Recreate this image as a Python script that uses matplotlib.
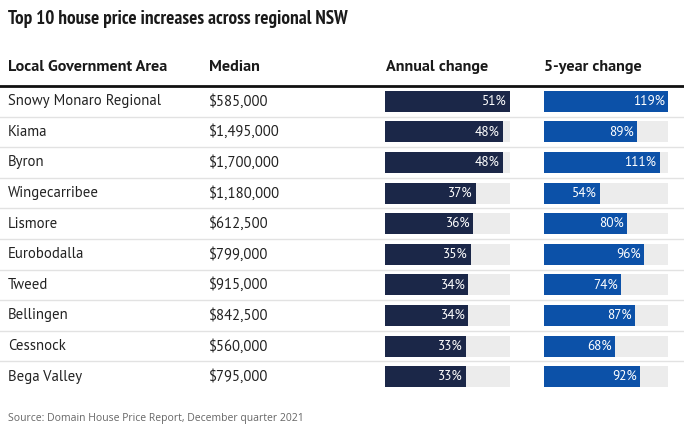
import matplotlib
matplotlib.use("Agg")
import matplotlib.pyplot as plt

areas = ["Snowy Monaro Regional", "Kiama", "Byron", "Wingecarribee", "Lismore",
         "Eurobodalla", "Tweed", "Bellingen", "Cessnock", "Bega Valley"]
medians = ["$585,000", "$1,495,000", "$1,700,000", "$1,180,000", "$612,500",
           "$799,000", "$915,000", "$842,500", "$560,000", "$795,000"]
annual = [51, 48, 48, 37, 36, 35, 34, 34, 33, 33]
five_year = [119, 89, 111, 54, 80, 96, 74, 87, 68, 92]
headers = ["Local Government Area", "Median", "Annual change", "5-year change"]
title = "Top 10 house price increases across regional NSW"
source = "Source: Domain House Price Report, December quarter 2021"

W, H = 684, 432
DPI = 100
NARROW = ["PT Sans Narrow", "Roboto", "DejaVu Sans"]
BODY = ["PT Sans", "Roboto", "DejaVu Sans"]
fig = plt.figure(figsize=(W / DPI, H / DPI), dpi=DPI)
fig.patch.set_facecolor("white")

def px_rect(x0, y0, x1, y1):
    return [x0 / W, 1 - y1 / H, (x1 - x0) / W, (y1 - y0) / H]

n = len(areas)
top, bottom = 86, 86 + 30.6 * n

tab = fig.add_axes(px_rect(0, top, W, bottom))
tab.set_xlim(0, W)
tab.set_ylim(n - 0.5, -0.5)
tab.axis("off")

for i in range(n):
    tab.text(8, i, areas[i], fontsize=10.6, family=BODY, color="#222222", va="center", ha="left")
    tab.text(209, i, medians[i], fontsize=10.6, family=BODY, color="#222222", va="center", ha="left")
for i in range(n - 1):
    tab.axhline(i + 0.5, color="#e2e2e2", lw=1.0)
tab.axhline(-0.5, color="#111111", lw=2.0, clip_on=False)

def bar_col(x0, x1, vals, color):
    ax = fig.add_axes(px_rect(x0, top, x1, bottom))
    vmax = max(vals)
    ys = list(range(n))
    ax.barh(ys, [vmax] * n, height=0.69, color="#ececec", left=0)
    ax.barh(ys, vals, height=0.69, color=color, left=0)
    ax.set_xlim(0, vmax)
    ax.set_ylim(n - 0.5, -0.5)
    ax.axis("off")
    for y, v in zip(ys, vals):
        ax.annotate(f"{v}%", (v, y), xytext=(-2.2, 0), textcoords="offset points",
                    ha="right", va="center", color="white", fontsize=9.5, family=BODY)
    return ax

bar_col(385, 510, annual, "#1b2748")
bar_col(544, 668, five_year, "#0c51a8")

fig.text(8 / W, 1 - 19 / H, title, fontsize=13.8, family=NARROW, weight="bold",
         color="#1a1a1a", va="center", ha="left")
hx = [8, 209, 386, 544]
for x, h in zip(hx, headers):
    fig.text(x / W, 1 - 67 / H, h, fontsize=11.6, family=BODY, weight="bold",
             color="#1a1a1a", va="center", ha="left")
fig.text(8 / W, 1 - 418 / H, source, fontsize=7.5, family=["Open Sans", "DejaVu Sans"],
         color="#666666", va="center", ha="left")

fig.savefig("out.png", dpi=DPI, facecolor="white")
